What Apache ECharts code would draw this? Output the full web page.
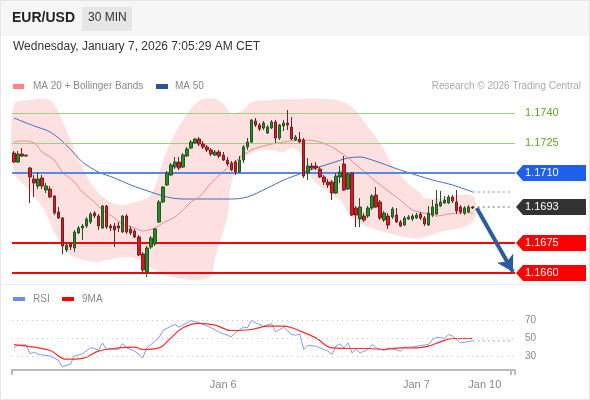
<!DOCTYPE html>
<html lang="en">
<head>
<meta charset="UTF-8">
<title>EUR/USD 30 MIN</title>
<script src="https://cdn.jsdelivr.net/npm/echarts@6/dist/echarts.min.js"></script>
<style>
    html, body { margin: 0; padding: 0; background: #fff; }
    #main { width: 590px; height: 400px; }
</style>
</head>
<body>
<div id="main"></div>
<script>
    // ---------------- data ----------------
    const slotCount = 125;                 // 30 min slots incl. the empty projection zone
    const tickLabels = [[52, 'Jan 6'], [100, 'Jan 7'], [117, 'Jan 10']];

    const resistances = [1.1740, 1.1725];
    const pivot = 1.1710;
    const lastPrice = 1.1693;
    const supports = [1.1675, 1.1660];

    const opens = [1.17200,1.17155,1.17195,1.17185,1.17125,1.17070,1.17035,1.17075,1.17015,1.17020,
        1.16985,1.16905,1.16875,1.16715,1.16745,1.16725,1.16800,1.16825,1.16835,1.16855,
        1.16900,1.16885,1.16825,1.16935,1.16835,1.16835,1.16835,1.16805,1.16885,1.16820,
        1.16810,1.16780,1.16695,1.16605,1.16730,1.16745,1.16855,1.16955,1.17040,1.17090,
        1.17130,1.17155,1.17130,1.17185,1.17225,1.17250,1.17270,1.17245,1.17230,1.17215,
        1.17190,1.17205,1.17190,1.17165,1.17150,1.17155,1.17105,1.17165,1.17230,1.17255,
        1.17360,1.17340,1.17325,1.17300,1.17325,1.17355,1.17275,1.17335,1.17350,1.17330,
        1.17265,1.17270,1.17265,1.17100,1.17135,1.17135,1.17120,1.17080,1.17055,1.17055,
        1.17000,1.17080,1.17145,1.17020,1.17100,1.16925,1.16870,1.16885,1.16885,1.16925,
        1.16990,1.16955,1.16865,1.16885,1.16880,1.16890,1.16855,1.16840,1.16870,1.16870,
        1.16875,1.16895,1.16875,1.16840,1.16890,1.16895,1.16935,1.16950,1.16950,1.16980,
        1.16955,1.16930,1.16900,1.16905,1.16930];
    const closes = [1.17155,1.17195,1.17185,1.17190,1.17080,1.17050,1.17070,1.17035,1.17035,1.16980,
        1.16900,1.16875,1.16735,1.16740,1.16730,1.16805,1.16825,1.16835,1.16870,1.16895,
        1.16885,1.16835,1.16935,1.16830,1.16825,1.16815,1.16825,1.16885,1.16805,1.16800,
        1.16780,1.16690,1.16615,1.16725,1.16775,1.16820,1.16955,1.17030,1.17100,1.17140,
        1.17155,1.17125,1.17190,1.17220,1.17255,1.17270,1.17245,1.17230,1.17215,1.17195,
        1.17205,1.17185,1.17165,1.17145,1.17115,1.17105,1.17165,1.17230,1.17255,1.17365,
        1.17340,1.17320,1.17350,1.17330,1.17355,1.17275,1.17340,1.17350,1.17340,1.17270,
        1.17280,1.17255,1.17085,1.17135,1.17125,1.17125,1.17080,1.17055,1.17040,1.17000,
        1.17085,1.17105,1.17015,1.17095,1.16890,1.16890,1.16930,1.16865,1.16925,1.16985,
        1.16930,1.16875,1.16900,1.16840,1.16920,1.16855,1.16835,1.16875,1.16880,1.16885,
        1.16890,1.16875,1.16845,1.16900,1.16930,1.16945,1.16955,1.16965,1.16980,1.16960,
        1.16910,1.16905,1.16925,1.16930,1.16925];
    const lows = [1.17150,1.17150,1.17180,1.17180,1.16950,1.16980,1.17020,1.17020,1.17000,1.16975,
        1.16890,1.16870,1.16695,1.16705,1.16715,1.16705,1.16795,1.16765,1.16825,1.16845,
        1.16875,1.16815,1.16820,1.16820,1.16810,1.16730,1.16805,1.16800,1.16795,1.16790,
        1.16775,1.16685,1.16600,1.16580,1.16720,1.16735,1.16850,1.16950,1.17035,1.17085,
        1.17120,1.17115,1.17125,1.17180,1.17220,1.17245,1.17235,1.17220,1.17205,1.17185,
        1.17185,1.17175,1.17160,1.17135,1.17110,1.17090,1.17100,1.17150,1.17215,1.17250,
        1.17330,1.17310,1.17315,1.17295,1.17320,1.17250,1.17265,1.17310,1.17315,1.17265,
        1.17260,1.17250,1.17075,1.17065,1.17115,1.17115,1.17075,1.17040,1.17025,1.16965,
        1.16995,1.17050,1.17010,1.17015,1.16885,1.16830,1.16830,1.16855,1.16875,1.16915,
        1.16925,1.16865,1.16855,1.16820,1.16870,1.16850,1.16830,1.16835,1.16865,1.16860,
        1.16870,1.16865,1.16835,1.16835,1.16880,1.16890,1.16930,1.16945,1.16945,1.16950,
        1.16895,1.16895,1.16890,1.16900,1.16920];
    const highs = [1.17210,1.17210,1.17225,1.17190,1.17130,1.17090,1.17105,1.17090,1.17050,1.17035,
        1.16990,1.16930,1.16880,1.16745,1.16750,1.16815,1.16835,1.16845,1.16880,1.16905,
        1.16910,1.16895,1.16940,1.16940,1.16845,1.16850,1.16855,1.16890,1.16895,1.16835,
        1.16820,1.16790,1.16705,1.16735,1.16785,1.16825,1.16965,1.17035,1.17110,1.17150,
        1.17180,1.17180,1.17200,1.17230,1.17265,1.17275,1.17280,1.17260,1.17240,1.17225,
        1.17215,1.17215,1.17205,1.17180,1.17160,1.17165,1.17185,1.17240,1.17275,1.17370,
        1.17375,1.17350,1.17360,1.17340,1.17365,1.17365,1.17345,1.17365,1.17415,1.17380,
        1.17290,1.17305,1.17275,1.17175,1.17150,1.17155,1.17130,1.17090,1.17070,1.17065,
        1.17100,1.17135,1.17185,1.17105,1.17105,1.16935,1.16975,1.16900,1.16935,1.16995,
        1.17030,1.16965,1.16910,1.16900,1.16930,1.16925,1.16865,1.16885,1.16890,1.16895,
        1.16900,1.16905,1.16885,1.16935,1.16965,1.17015,1.17010,1.16985,1.16990,1.16990,
        1.17015,1.16940,1.16935,1.16940,1.16935];

    // indicator lines, [slot, value]
    const ma20 = [[0,1.17255],[2,1.17260],[5,1.17250],[7,1.17205],[10,1.17165],[12,1.17105],[15,1.17055],
        [17,1.17005],[20,1.16955],[22,1.16915],[25,1.16875],[27,1.16845],[30,1.16825],[32,1.16810],
        [35,1.16825],[37,1.16850],[40,1.16880],[42,1.16915],[44,1.16955],[46,1.16980],[49,1.17050],
        [53,1.17125],[56,1.17175],[59,1.17215],[63,1.17240],[67,1.17255],[71,1.17265],[75,1.17260],
        [79,1.17230],[83,1.17175],[88,1.17090],[92,1.17025],[96,1.16965],[99,1.16915],[103,1.16895],
        [105,1.16885],[108,1.16895],[111,1.16900],[114,1.16900]];
    const ma50 = [[0,1.17375],[5,1.17335],[9,1.17305],[13,1.17240],[17,1.17155],[21,1.17105],[25,1.17075],
        [29,1.17040],[34,1.17005],[38,1.16980],[42,1.16970],[46,1.16970],[54,1.16970],[58,1.16980],
        [63,1.17025],[67,1.17065],[71,1.17095],[75,1.17125],[79,1.17150],[83,1.17175],[86,1.17180],
        [89,1.17165],[96,1.17115],[104,1.17065],[109,1.17040],[114,1.17005]];
    const bandUpper = [[0,1.17440],[4,1.17465],[8,1.17470],[10,1.17445],[13,1.17315],[17,1.17130],
        [21,1.17000],[26,1.16940],[30,1.16955],[34,1.16990],[38,1.17215],[42,1.17365],[46,1.17460],
        [50,1.17470],[52,1.17445],[54,1.17400],[57,1.17415],[59,1.17455],[64,1.17465],[71,1.17470],
        [76,1.17470],[80,1.17465],[84,1.17430],[88,1.17330],[91,1.17250],[94,1.17140],[97,1.17065],
        [101,1.17000],[102,1.16975],[106,1.16975],[114,1.16985]];
    const bandLower = [[0,1.17105],[3,1.17030],[7,1.16930],[11,1.16765],[14,1.16690],[20,1.16655],
        [23,1.16665],[26,1.16675],[30,1.16675],[34,1.16625],[38,1.16590],[42,1.16570],[46,1.16565],
        [49,1.16585],[50,1.16680],[53,1.16880],[54,1.17050],[56,1.17140],[59,1.17200],[63,1.17215],
        [67,1.17205],[69,1.17225],[71,1.17200],[74,1.17075],[78,1.17005],[81,1.16965],[84,1.16875],
        [88,1.16830],[92,1.16805],[97,1.16780],[101,1.16775],[105,1.16800],[114,1.16855]];
    const ma50Projection = [[114,1.17005],[124,1.17005]];
    const arrowFrom = [115, 1.16925];
    const arrowTo = [124, 1.16605];

    const rsi = [[0,39.6],[1,42.6],[3,43],[4,33],[5,35],[6,32.4],[9,30.5],[11,26],[12,18.6],[14,21.5],
        [15,30.5],[17,33],[19,39.6],[20,39],[21,37],[22,45],[23,38],[26,38],[27,44.4],[28,39.6],[30,36],
        [32,28.5],[33,39.6],[36,50.7],[37,58.9],[39,63.7],[40,65.6],[41,62.6],[43,67.4],[44,70],[46,67.4],
        [49,61.9],[51,57],[54,51.9],[55,56.3],[57,62.6],[58,61.9],[59,70],[60,67.4],[62,63.7],[64,66.3],
        [65,57.4],[67,62.6],[69,54.4],[70,53.7],[71,55],[72,37.8],[73,42.2],[75,41.5],[77,37.8],[78,36],
        [79,32.2],[80,41.5],[81,44],[82,39.6],[83,45],[84,34],[85,37.8],[86,34],[88,37.8],[89,43.3],
        [90,39.6],[92,36.7],[93,39.6],[95,37.4],[96,36],[97,40.4],[99,40.4],[101,42.2],[103,43.3],
        [104,48.9],[105,51.5],[107,50],[108,54.4],[109,52.6],[111,45],[113,46.7],[114,47.4]];
    const rsiMa9 = [[0,43.3],[5,40.4],[9,36.7],[13,27],[17,28],[21,36],[26,39.6],[30,40.4],[32,37.8],
        [36,39.6],[39,50.7],[42,61.9],[46,66.7],[50,64.8],[54,58.9],[59,60],[63,63.7],[67,63.7],[71,58.5],
        [75,50.7],[79,39.6],[84,38.9],[88,38.9],[92,37.8],[96,39.6],[100,39.6],[103,41.5],[106,46.3],
        [109,50],[114,50]];
    const rsiProjection = [[114,47.4],[124,47.4]];
    const rsiLevels = [70, 50, 30];

    // ---------------- chart ----------------
    const FONT = "'Liberation Sans', Arial, sans-serif";
    const slots = [];
    for (let i = 0; i < slotCount; i++) slots.push(String(i));
    const labelAt = {};
    tickLabels.forEach(t => { labelAt[t[0]] = t[1]; });

    const candles = [];
    for (let i = 0; i < opens.length; i++) {
        candles.push([opens[i], closes[i], lows[i], highs[i]]);
    }

    const chart = echarts.init(document.getElementById('main'));

    const levelLine = (v, color, width) => ({
        yAxis: v,
        lineStyle: {color: color, width: width, type: 'solid', opacity: 1},
        label: {show: false}
    });

    const option = {
        animation: false,
        textStyle: {fontFamily: FONT},
        grid: [
            {left: 12, right: 75, top: 97, height: 188},
            {left: 12, right: 75, top: 307, height: 63}
        ],
        xAxis: [
            {type: 'category', data: slots, gridIndex: 0, boundaryGap: true, show: false},
            {
                type: 'category', data: slots, gridIndex: 1, boundaryGap: true,
                axisLine: {lineStyle: {color: '#bbb', width: 2}},
                axisTick: {show: true, length: 5, lineStyle: {color: '#bbb', width: 2},
                    interval: (i) => i === 0 || i === slotCount - 1},
                axisLabel: {
                    interval: (i) => labelAt[i] !== undefined,
                    formatter: (v, i) => labelAt[i] || '',
                    color: '#888', fontSize: 11, margin: 9, fontFamily: FONT
                },
                splitLine: {show: false}
            }
        ],
        yAxis: [
            {type: 'value', gridIndex: 0, min: 1.1654, max: 1.1748, show: false, splitLine: {show: false}},
            {type: 'value', gridIndex: 1, min: 15, max: 85, show: false, splitLine: {show: false}}
        ],
        series: [
            {
                type: 'custom', name: 'bands', xAxisIndex: 0, yAxisIndex: 0, z: 1,
                data: [[0, 1.17]],
                renderItem: (params, api) => {
                    const pts = bandUpper.map(p => api.coord(p));
                    const low = bandLower.map(p => api.coord(p)).reverse();
                    return {
                        type: 'polygon',
                        shape: {points: pts.concat(low), smooth: 0.35},
                        style: {fill: '#fde1e1'}
                    };
                }
            },
            {
                type: 'line', name: 'MA 50', xAxisIndex: 0, yAxisIndex: 0, data: ma50, smooth: 0.3,
                symbol: 'none', z: 3,
                lineStyle: {color: '#4a6cb5', width: 1},
                markLine: {
                    silent: true, symbol: 'none', animation: false, precision: 5,
                    data: [
                        levelLine(pivot, '#5b86e8', 2),
                        levelLine(supports[0], '#ff0000', 2),
                        levelLine(supports[1], '#ff0000', 2)
                    ]
                }
            },
            {
                type: 'line', data: ma50Projection, symbol: 'none', z: 3,
                lineStyle: {color: '#9fb5e8', width: 1.5, type: [2, 3]}
            },
            {
                type: 'line', name: 'MA 20', data: ma20, smooth: 0.3, symbol: 'none', z: 3,
                lineStyle: {color: '#f28a8a', width: 1},
                markLine: {
                    silent: true, symbol: 'none', animation: false, precision: 5,
                    lineStyle: {color: '#9fcf7c', width: 1, type: 'solid', opacity: 1},
                    label: {show: true, position: 'end', distance: 10, color: '#5ea52a', fontSize: 11,
                        fontFamily: FONT, formatter: (p) => Number(p.value).toFixed(4)},
                    emphasis: {disabled: true},
                    data: resistances.map(v => ({yAxis: v}))
                }
            },
            {
                type: 'candlestick', name: 'EUR/USD', data: candles, barWidth: 3, z: 5,
                itemStyle: {
                    color: '#2a8a2a', borderColor: '#245224',
                    color0: '#e8161c', borderColor0: '#6e2222', borderWidth: 1
                },
                markLine: {
                    silent: true, animation: false, precision: 5,
                    symbol: ['none', 'arrow'], symbolSize: [14, 16],
                    lineStyle: {color: '#2d5c9e', width: 4, type: 'solid'},
                    label: {show: false},
                    data: [[{coord: arrowFrom}, {coord: arrowTo}]]
                }
            },
            {
                type: 'line', data: [[114, lastPrice], [124, lastPrice]], symbol: 'none', z: 4,
                lineStyle: {color: '#999', width: 1.5, type: [2, 3]}
            },
            // RSI panel
            {
                type: 'line', name: 'RSI', xAxisIndex: 1, yAxisIndex: 1, data: rsi, symbol: 'none', z: 3,
                lineStyle: {color: '#7d9bf0', width: 1},
                markLine: {
                    silent: true, symbol: 'none', animation: false,
                    lineStyle: {color: '#c4c4c4', width: 1, type: [1, 4]},
                    label: {show: true, position: 'end', distance: 10, color: '#888', fontSize: 10,
                        fontFamily: FONT, formatter: (p) => String(p.value)},
                    data: rsiLevels.map(v => ({yAxis: v}))
                }
            },
            {
                type: 'line', xAxisIndex: 1, yAxisIndex: 1, data: rsiProjection, symbol: 'none', z: 3,
                lineStyle: {color: '#9fb5e8', width: 1.2, type: [2, 3]}
            },
            {
                type: 'line', name: '9MA', xAxisIndex: 1, yAxisIndex: 1, data: rsiMa9, smooth: 0.4,
                symbol: 'none', z: 4, lineStyle: {color: '#ff2a2a', width: 1.2}
            }
        ]
    };

    chart.setOption(option);

    // price tags on the right, placed with the y scale
    const tags = [
        {v: pivot, color: '#1f5fec'},
        {v: lastPrice, color: '#333333'},
        {v: supports[0], color: '#ff0000'},
        {v: supports[1], color: '#ff0000'}
    ];
    const graphic = [
        {type: 'rect', shape: {x: 0, y: 0, width: 590, height: 36}, style: {fill: '#f6f6f7'}, z: -1},
        {type: 'rect', shape: {x: 0.5, y: 0.5, width: 589, height: 399}, style: {fill: 'none', stroke: '#e6e6e6'}},
        {type: 'line', shape: {x1: 0, y1: 284.5, x2: 590, y2: 284.5}, style: {stroke: '#eeeeee', lineWidth: 1}},
        {type: 'text', left: 12, top: 11, style: {text: 'EUR/USD', font: 'bold 14px ' + FONT, fill: '#222'}},
        {type: 'rect', shape: {x: 82, y: 7, width: 50, height: 24}, style: {fill: '#e6e6e6'}},
        {type: 'text', left: 88, top: 12, style: {text: '30 MIN', font: '12px ' + FONT, fill: '#333'}},
        {type: 'text', left: 13, top: 41, style: {text: 'Wednesday, January 7, 2026 7:05:29 AM CET', font: '12px ' + FONT, fill: '#333'}},
        {type: 'rect', shape: {x: 13, y: 84, width: 11, height: 5}, style: {fill: '#ff8585'}},
        {type: 'text', left: 33, top: 81, style: {text: 'MA 20 + Bollinger Bands', font: '10px ' + FONT, fill: '#888'}},
        {type: 'rect', shape: {x: 156, y: 84, width: 12, height: 5}, style: {fill: '#2d5597'}},
        {type: 'text', left: 175, top: 81, style: {text: 'MA 50', font: '10px ' + FONT, fill: '#888'}},
        {type: 'text', right: 9, top: 81, style: {text: 'Research \u00a9 2026 Trading Central', font: '10px ' + FONT, fill: '#aaa'}},
        {type: 'rect', shape: {x: 13, y: 297, width: 12, height: 4}, style: {fill: '#6a8ee8'}},
        {type: 'text', left: 33, top: 294, style: {text: 'RSI', font: '10px ' + FONT, fill: '#888'}},
        {type: 'rect', shape: {x: 62, y: 297, width: 12, height: 4}, style: {fill: '#ff0000'}},
        {type: 'text', left: 82, top: 294, style: {text: '9MA', font: '10px ' + FONT, fill: '#888'}}
    ];
    tags.forEach(t => {
        const y = Math.round(chart.convertToPixel({yAxisIndex: 0}, t.v));
        graphic.push({
            type: 'polygon',
            shape: {points: [[516, y], [523, y - 8], [586, y - 8], [586, y + 8], [523, y + 8]]},
            style: {fill: t.color}
        });
        graphic.push({
            type: 'text', x: 525, y: y, style: {text: t.v.toFixed(4), font: '11px ' + FONT, fill: '#fff',
                verticalAlign: 'middle'}
        });
    });
    chart.setOption({graphic: graphic});
</script>
</body>
</html>
